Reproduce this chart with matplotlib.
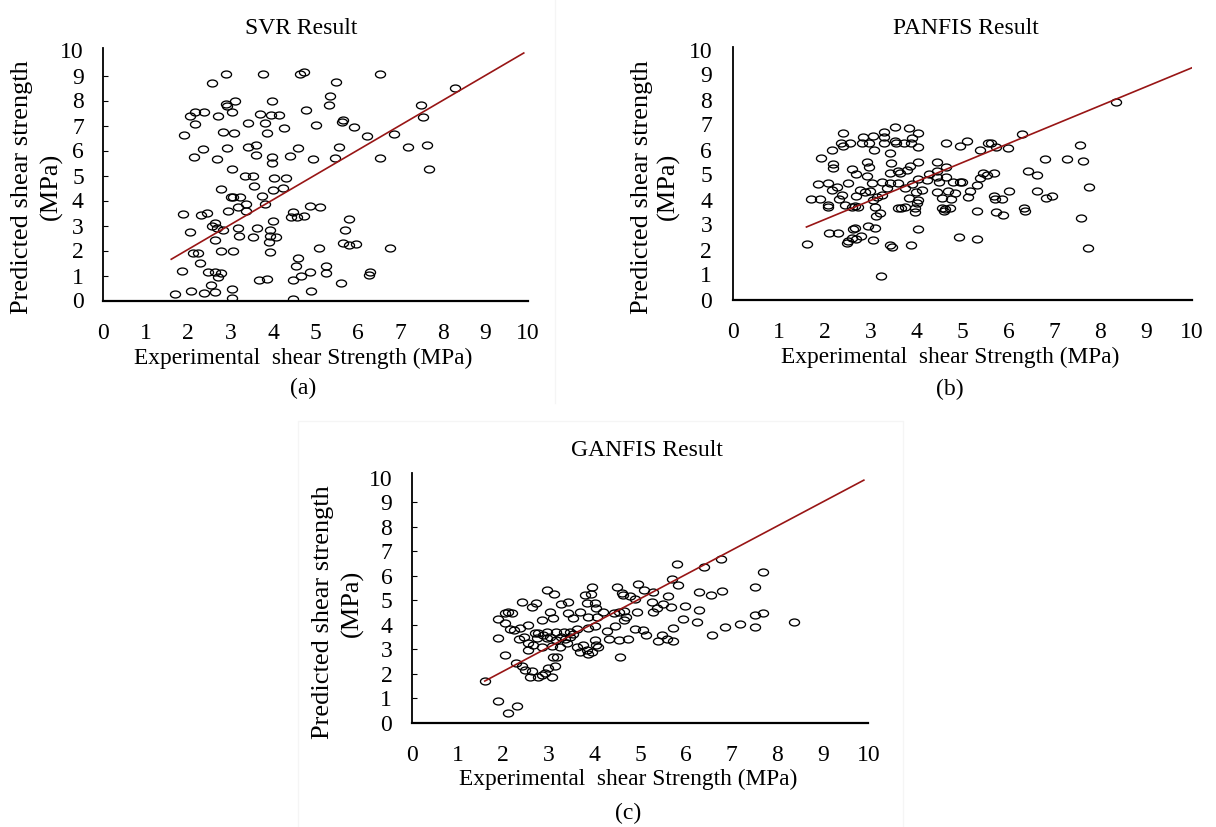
import matplotlib
matplotlib.use("Agg")
import matplotlib.pyplot as plt
from matplotlib.markers import MarkerStyle
from matplotlib.transforms import Affine2D
from matplotlib.lines import Line2D

plt.rcParams['font.family'] = ['Liberation Serif', 'DejaVu Serif']

# ---------------- data ----------------
svr_x = [2.89, 3.76, 4.62, 4.73, 6.52, 2.56, 5.49, 5.33, 8.29, 2.89, 2.91, 3.11, 3.98, 5.32, 7.48,
         2.15, 2.05, 2.38, 2.69, 3.03, 3.70, 3.95, 4.13, 4.78, 5.64, 5.62, 3.41, 3.81, 2.15, 5.01,
         4.25, 5.91, 7.52, 1.89, 2.81, 3.08, 3.86, 6.22, 6.84, 2.34, 2.91, 3.41, 3.59, 4.59, 5.55,
         7.17, 7.62, 2.14, 2.68, 3.59, 3.98, 4.39, 4.93, 5.46, 6.52, 3.98, 7.66, 3.04, 3.34, 3.52,
         4.02, 4.31, 2.78, 3.55, 3.99, 4.23, 3.01, 3.05, 3.22, 3.73, 3.16, 3.36, 2.93, 3.35, 3.81,
         4.87, 5.11, 1.87, 2.31, 2.44, 4.46, 4.43, 4.56, 4.72, 2.63, 2.56, 2.67, 2.81, 2.04, 3.18,
         3.62, 3.92, 3.99, 5.79, 5.68, 3.20, 3.52, 3.93, 4.07, 2.64, 3.91, 5.64, 5.79, 5.96, 6.74,
         5.07, 2.11, 2.24, 2.76, 3.06, 3.92, 2.28, 4.59, 4.53, 5.24, 1.86, 2.46, 2.62, 2.77, 2.71,
         4.87, 5.24, 4.66, 6.27, 6.25, 3.66, 3.85, 4.47, 2.54, 5.60, 1.68, 2.07, 2.37, 2.63, 3.02,
         4.88, 3.02, 4.47]
svr_y = [9.05, 9.06, 9.06, 9.15, 9.06, 8.70, 8.75, 8.19, 8.49, 7.86, 7.78, 7.99, 7.99, 7.81, 7.81,
         7.55, 7.39, 7.53, 7.37, 7.53, 7.47, 7.41, 7.41, 7.63, 7.22, 7.15, 7.11, 7.11, 7.05, 7.02,
         6.89, 6.94, 7.35, 6.63, 6.74, 6.71, 6.71, 6.57, 6.66, 6.07, 6.10, 6.13, 6.23, 6.09, 6.15,
         6.15, 6.21, 5.73, 5.67, 5.82, 5.75, 5.78, 5.67, 5.69, 5.69, 5.49, 5.26, 5.26, 4.99, 4.99,
         4.90, 4.90, 4.45, 4.58, 4.43, 4.50, 4.15, 4.13, 4.15, 4.19, 3.75, 3.86, 3.59, 3.59, 3.86,
         3.79, 3.74, 3.45, 3.41, 3.49, 3.55, 3.33, 3.33, 3.37, 3.09, 2.99, 2.89, 2.81, 2.75, 2.91,
         2.89, 2.82, 3.18, 3.25, 2.82, 2.60, 2.55, 2.60, 2.55, 2.41, 2.34, 2.30, 2.21, 2.27, 2.10,
         2.10, 1.89, 1.91, 1.98, 1.99, 1.95, 1.52, 1.70, 1.38, 1.38, 1.18, 1.13, 1.13, 1.09, 0.93,
         1.14, 1.11, 0.99, 1.13, 1.02, 0.81, 0.85, 0.82, 0.64, 0.70, 0.25, 0.37, 0.29, 0.33, 0.47,
         0.37, 0.10, 0.07]

panfis_x = [2.39, 3.53, 3.84, 3.28, 4.02, 2.84, 3.06, 3.30, 3.89, 2.35, 2.55, 2.80, 2.96, 3.30, 3.52,
            3.55, 3.73, 3.87, 2.16, 2.40, 3.07, 4.02, 3.42, 4.65, 5.09, 4.95, 5.56, 5.62, 5.38, 5.74,
            6.00, 6.29, 7.56, 1.91, 2.91, 2.17, 2.17, 3.44, 4.02, 3.86, 4.44, 4.65, 2.59, 2.97, 3.60,
            3.78, 3.42, 3.64, 2.69, 2.91, 6.80, 7.27, 7.62, 6.42, 6.62, 4.44, 4.28, 5.45, 5.69, 5.53,
            1.86, 2.06, 2.51, 2.26, 2.16, 3.02, 3.24, 3.42, 3.59, 2.77, 2.98, 2.88, 3.35, 3.75, 3.89,
            4.04, 4.22, 4.44, 4.64, 4.11, 4.49, 4.80, 4.95, 4.98, 5.38, 5.32, 3.98, 4.44, 4.69, 4.84,
            5.16, 6.02, 6.62, 7.76, 1.70, 1.90, 2.37, 2.32, 2.69, 3.13, 3.24, 2.08, 2.06, 2.44, 2.59,
            2.73, 2.66, 3.06, 3.84, 4.02, 4.55, 4.76, 5.13, 5.69, 5.71, 5.87, 6.83, 6.94, 3.09, 3.60,
            3.67, 3.75, 3.97, 4.00, 4.55, 4.61, 4.73, 3.20, 3.12, 3.97, 4.60, 5.31, 5.74, 5.89, 6.33,
            6.36, 7.58, 2.66, 2.95, 3.09, 2.62, 2.10, 2.29, 4.02, 2.79, 2.59, 2.69, 2.51, 2.48, 3.04,
            3.42, 3.47, 3.88, 4.93, 5.31, 1.62, 7.74, 3.22, 8.35]
panfis_y = [6.65, 6.91, 6.85, 6.71, 6.67, 6.49, 6.54, 6.51, 6.45, 6.27, 6.27, 6.27, 6.25, 6.27, 6.35,
            6.25, 6.27, 6.25, 5.98, 6.14, 5.98, 6.11, 5.85, 6.25, 6.35, 6.14, 6.27, 6.27, 5.98, 6.11,
            6.05, 6.62, 6.18, 5.65, 5.51, 5.42, 5.26, 5.47, 5.49, 5.34, 5.49, 5.31, 5.21, 5.29, 5.14,
            5.18, 5.05, 5.05, 5.02, 4.94, 5.62, 5.62, 5.55, 5.15, 4.98, 5.15, 5.02, 5.05, 5.07, 4.98,
            4.62, 4.67, 4.65, 4.49, 4.38, 4.67, 4.70, 4.67, 4.65, 4.38, 4.33, 4.29, 4.45, 4.45, 4.61,
            4.82, 4.78, 4.89, 4.91, 4.38, 4.70, 4.71, 4.71, 4.71, 4.85, 4.58, 4.31, 4.31, 4.34, 4.25,
            4.34, 4.35, 4.35, 4.50, 4.01, 4.03, 4.17, 4.01, 4.14, 4.11, 4.17, 3.78, 3.69, 3.78, 3.71,
            3.69, 3.74, 3.98, 4.07, 3.98, 4.05, 4.01, 4.09, 4.14, 4.01, 4.03, 4.05, 4.14, 3.69, 3.67,
            3.67, 3.69, 3.65, 3.85, 3.67, 3.63, 3.65, 3.45, 3.34, 3.51, 3.55, 3.54, 3.50, 3.38, 3.65,
            3.55, 3.27, 2.85, 2.94, 2.85, 2.81, 2.65, 2.65, 2.81, 2.54, 2.45, 2.41, 2.34, 2.27, 2.38,
            2.19, 2.11, 2.18, 2.51, 2.42, 2.23, 2.05, 0.95, 7.90]

ganfis_x = [5.82, 6.39, 6.77, 7.69, 5.69, 5.84, 7.52, 2.97, 3.12, 3.95, 4.49, 4.60, 4.63, 3.80, 3.92,
            4.96, 5.09, 5.28, 4.90, 4.77, 6.30, 6.55, 6.80, 5.61, 2.41, 2.72, 2.63, 3.28, 3.43, 3.83,
            4.01, 4.04, 5.26, 5.51, 5.68, 5.99, 6.30, 5.28, 5.37, 2.04, 2.10, 2.19, 3.03, 3.43, 3.69,
            4.18, 4.42, 4.55, 4.65, 4.93, 7.52, 7.69, 8.36, 1.90, 2.04, 2.55, 2.85, 3.10, 3.54, 3.87,
            4.05, 4.65, 4.69, 5.95, 6.24, 7.19, 7.52, 6.86, 6.58, 2.15, 2.23, 2.37, 2.77, 2.96, 3.17,
            3.34, 3.61, 3.87, 4.01, 4.27, 4.45, 4.88, 5.06, 5.13, 5.47, 5.72, 1.88, 2.34, 2.45, 2.74,
            3.03, 3.28, 3.47, 3.54, 2.55, 2.66, 2.85, 3.07, 3.25, 3.39, 3.61, 3.76, 3.83, 4.01, 4.04,
            4.09, 3.94, 4.31, 4.53, 4.74, 5.40, 5.58, 5.73, 2.04, 2.55, 3.10, 3.19, 3.69, 3.87, 4.56,
            2.28, 2.41, 2.48, 2.63, 2.59, 2.77, 2.85, 2.92, 3.07, 2.99, 3.14, 1.61, 1.88, 2.30, 2.10,
            2.88, 3.17, 3.36, 2.70, 2.96, 3.47]
ganfis_y = [6.48, 6.34, 6.67, 6.14, 5.85, 5.63, 5.55, 5.43, 5.25, 5.53, 5.53, 5.31, 5.21, 5.21, 5.25,
            5.65, 5.42, 5.32, 5.04, 5.17, 5.35, 5.21, 5.39, 5.17, 4.91, 4.87, 4.74, 4.84, 4.91, 4.87,
            4.87, 4.67, 4.91, 4.84, 4.74, 4.76, 4.60, 4.53, 4.67, 4.49, 4.53, 4.49, 4.53, 4.46, 4.51,
            4.53, 4.46, 4.53, 4.57, 4.53, 4.40, 4.49, 4.12, 4.23, 4.06, 3.99, 4.19, 4.26, 4.26, 4.33,
            4.33, 4.19, 4.33, 4.23, 4.10, 4.03, 3.89, 3.89, 3.58, 3.81, 3.78, 3.85, 3.67, 3.72, 3.72,
            3.72, 3.82, 3.85, 3.95, 3.74, 3.95, 3.82, 3.78, 3.58, 3.58, 3.85, 3.47, 3.40, 3.49, 3.44,
            3.51, 3.49, 3.49, 3.62, 3.24, 3.17, 3.10, 3.14, 3.10, 3.24, 3.10, 3.17, 2.97, 3.37, 3.17,
            3.10, 2.90, 3.40, 3.37, 3.40, 3.34, 3.40, 3.34, 2.75, 2.97, 2.70, 2.70, 2.90, 2.80, 2.70,
            2.42, 2.31, 2.15, 2.11, 1.88, 1.88, 1.95, 2.01, 1.85, 2.22, 2.31, 1.72, 0.90, 0.68, 0.38,
            3.58, 3.37, 3.40, 3.65, 3.44, 3.72]

svr_line_x = [1.6, 9.9]
svr_line_y = [1.65, 9.9]
panfis_line_x = [1.6, 10.0]
panfis_line_y = [2.9, 9.27]
ganfis_line_x = [1.6, 9.9]
ganfis_line_y = [1.7, 9.9]

tick_values = list(range(0, 11))
tick_labels = [str(v) for v in tick_values]
minor_x_ticks = [2, 4, 6, 8]

titles = ["SVR Result", "PANFIS Result", "GANFIS Result"]
xlabel_text = "Experimental  shear Strength (MPa)"
ylabel_text1 = "Predicted shear strength"
ylabel_text2 = "(MPa)"
panel_tags = ["(a)", "(b)", "(c)"]

# ---------------- figure ----------------
W, H = 1216, 827
fig = plt.figure(figsize=(W / 100, H / 100), dpi=100)

def fx(px):
    return px / W

def fy(py):
    return 1 - py / H

# faint panel frames as in the source image
fig.add_artist(Line2D([fx(555), fx(555)], [fy(0), fy(403)], color='#f5f5f5', lw=1.0))
fig.add_artist(Line2D([fx(298), fx(298), fx(903), fx(903)], [fy(827), fy(421), fy(421), fy(827)],
                      color='#f5f5f5', lw=1.0))

marker = MarkerStyle('o', fillstyle='none', transform=Affine2D().scale(1.45, 1.0))
line_color = '#981515'
MS, MEW = 5.0, 0.95

def setup_axes(rect, ytop, show_ticks):
    ax = fig.add_axes(rect)
    ax.set_xlim(0, 10)
    ax.set_ylim(0, ytop)
    for s in ['top', 'right']:
        ax.spines[s].set_visible(False)
    ax.spines['left'].set_linewidth(1.3)
    ax.spines['bottom'].set_linewidth(1.6)
    ax.set_xticks(tick_values)
    ax.set_xticklabels(tick_labels)
    ax.set_yticks(tick_values)
    ax.set_yticklabels(tick_labels)
    ax.tick_params(axis='x', which='major', length=0, pad=16, labelsize=17)
    if show_ticks:
        ax.set_xticks(minor_x_ticks, minor=True)
        ax.tick_params(axis='x', which='minor', direction='in', length=3, width=0.8)
        ax.tick_params(axis='y', which='major', direction='in', length=3.5, width=0.8,
                       pad=14, labelsize=17)
        ticks = ax.yaxis.get_major_ticks()
        ticks[0].tick1line.set_visible(False)
        ticks[-1].tick1line.set_visible(False)
    else:
        ax.tick_params(axis='y', which='major', length=0, pad=15, labelsize=17)
    ax.patch.set_alpha(0)
    return ax

# panel (a)
ax_a = setup_axes([fx(103.3), fy(300.5), fx(528) - fx(103.3), 10.1 * 25 / H], 10.1, True)
ax_a.plot(svr_x, svr_y, linestyle='none', marker=marker, ms=MS, mec='black', mew=MEW)
ax_a.plot(svr_line_x, svr_line_y, color=line_color, lw=1.2)

# panel (b)
ax_b = setup_axes([fx(733), fy(299.5), fx(1192) - fx(733), 10.1 * 25 / H], 10.1, False)
ax_b.plot(panfis_x, panfis_y, linestyle='none', marker=marker, ms=MS, mec='black', mew=MEW)
ax_b.plot(panfis_line_x, panfis_line_y, color=line_color, lw=1.2)

# panel (c)
ax_c = setup_axes([fx(411.7), fy(722.7), fx(868.4) - fx(411.7), 10.2 * 24.5 / H], 10.2, True)
ax_c.plot(ganfis_x, ganfis_y, linestyle='none', marker=marker, ms=MS, mec='black', mew=MEW)
ax_c.plot(ganfis_line_x, ganfis_line_y, color=line_color, lw=1.2)

# titles
fig.text(fx(301), fy(29), titles[0], ha='center', va='center', fontsize=17)
fig.text(fx(966), fy(29), titles[1], ha='center', va='center', fontsize=17)
fig.text(fx(647), fy(451), titles[2], ha='center', va='center', fontsize=17)

# y labels
for (x1, x2, yc1, yc2) in [(22, 51, 187, 186), (642, 668, 187, 186), (323, 352, 612, 603)]:
    fig.text(fx(x1), fy(yc1), ylabel_text1, rotation=90, ha='center', va='center', fontsize=19)
    fig.text(fx(x2), fy(yc2), ylabel_text2, rotation=90, ha='center', va='center', fontsize=19)

# x labels and panel tags
for (xc, yl, yt), tag in zip([(303, 358, 388), (950, 357, 389), (628, 779, 813)], panel_tags):
    fig.text(fx(xc), fy(yl), xlabel_text, ha='center', va='center', fontsize=16.8)
    fig.text(fx(xc), fy(yt), tag, ha='center', va='center', fontsize=17)

fig.savefig("out.png", dpi=100)
